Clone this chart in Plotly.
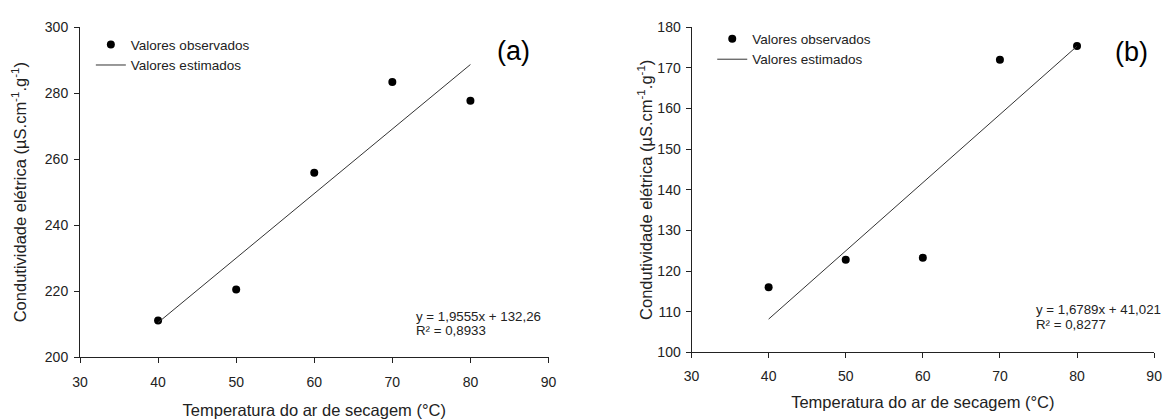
import plotly.graph_objects as go

temps = [40, 50, 60, 70, 80]
obs_a = [211.1, 220.5, 255.9, 283.4, 277.7]
obs_b = [116.0, 122.8, 123.3, 172.0, 175.4]
fit_a = (1.9555, 132.26)
fit_b = (1.6789, 41.021)
eq_a = ["y = 1,9555x + 132,26", "R² = 0,8933"]
eq_b = ["y = 1,6789x + 41,021", "R² = 0,8277"]
x_ticks = [30, 40, 50, 60, 70, 80, 90]
y_ticks_a = [200, 220, 240, 260, 280, 300]
y_ticks_b = [100, 110, 120, 130, 140, 150, 160, 170, 180]
panel_labels = ["(a)", "(b)"]
legend_names = ["Valores observados", "Valores estimados"]
x_title = "Temperatura do ar de secagem (°C)"
y_title = "Condutividade elétrica (µS.cm<sup>-1</sup>.g<sup>-1</sup>)"

W, H = 1171, 419
FONT = "Liberation Sans, Arial, sans-serif"
INK = "#222222"

fig = go.Figure()

def px_x(v):
    return v / W

def px_y(v):
    return 1 - v / H

panels = [
    dict(obs=obs_a, fit=fit_a, xa="x", ya="y", legend="legend"),
    dict(obs=obs_b, fit=fit_b, xa="x2", ya="y2", legend="legend2"),
]
for p in panels:
    fig.add_trace(go.Scatter(
        x=temps, y=p["obs"], mode="markers", name=legend_names[0],
        marker=dict(color="black", size=8), xaxis=p["xa"], yaxis=p["ya"],
        legend=p["legend"]))
    xs = [temps[0], temps[-1]]
    ys = [p["fit"][0] * v + p["fit"][1] for v in xs]
    fig.add_trace(go.Scatter(
        x=xs, y=ys, mode="lines", name=legend_names[1],
        line=dict(color="#333333", width=1), xaxis=p["xa"], yaxis=p["ya"],
        legend=p["legend"]))

axis_common = dict(
    showline=True, linecolor=INK, linewidth=1, ticks="outside", ticklen=5,
    tickcolor=INK, tickwidth=1, showgrid=False, zeroline=False,
    tickfont=dict(family=FONT, size=14, color=INK), mirror=False,
)
xt_font = dict(size=16.5, color=INK, family=FONT)

fig.update_layout(
    width=W, height=H, margin=dict(l=0, r=0, t=0, b=0),
    paper_bgcolor="white", plot_bgcolor="white",
    font=dict(family=FONT, color=INK),
    xaxis=dict(domain=[px_x(73), px_x(548)], range=[30, 90], tickvals=x_ticks,
               anchor="y", ticklabelstandoff=7,
               title=dict(text=x_title, font=xt_font, standoff=15),
               **axis_common),
    yaxis=dict(domain=[px_y(363), px_y(20)], range=[200, 300], tickvals=y_ticks_a,
               anchor="x", ticklabelstandoff=3,
               title=dict(text=y_title, font=xt_font, standoff=14),
               **axis_common),
    xaxis2=dict(domain=[px_x(693), px_x(1162)], range=[30, 90], tickvals=x_ticks,
                anchor="y2", ticklabelstandoff=6,
                title=dict(text=x_title, font=xt_font, standoff=13),
                **axis_common),
    yaxis2=dict(domain=[px_y(358), px_y(20)], range=[100, 180], tickvals=y_ticks_b,
                anchor="x2", ticklabelstandoff=2,
                title=dict(text=y_title, font=xt_font, standoff=0),
                **axis_common),
    legend=dict(x=px_x(84), y=px_y(22), xanchor="left", yanchor="top",
                bgcolor="rgba(0,0,0,0)", font=dict(family=FONT, size=13.5, color=INK),
                tracegroupgap=0, itemwidth=30),
    legend2=dict(x=px_x(714), y=px_y(16), xanchor="left", yanchor="top",
                 bgcolor="rgba(0,0,0,0)", font=dict(family=FONT, size=13.5, color=INK),
                 tracegroupgap=0, itemwidth=30),
)

annos = [
    dict(x=px_x(513), y=px_y(45), text=panel_labels[0]),
    dict(x=px_x(1139), y=px_y(46), text=panel_labels[1]),
]
for a in annos:
    fig.add_annotation(xref="paper", yref="paper", x=a["x"], y=a["y"], text=a["text"],
                       showarrow=False, xanchor="center", yanchor="middle",
                       font=dict(family=FONT, size=27, color="black"))

for eq, xpos, ys in [(eq_a, 412, (321, 335)), (eq_b, 1040, (313, 329))]:
    for line, ypos in zip(eq, ys):
        fig.add_annotation(xref="paper", yref="paper", x=px_x(xpos), y=px_y(ypos),
                           text=line, showarrow=False, xanchor="left",
                           yanchor="middle", align="left",
                           font=dict(family=FONT, size=13.3, color=INK))

fig.write_html("out.html")
